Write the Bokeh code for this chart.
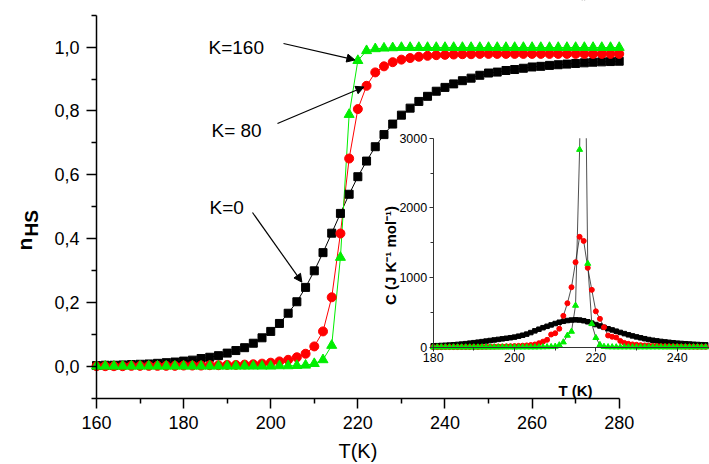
from bokeh.plotting import figure
from bokeh.models import (Range1d, LinearAxis, FixedTicker, CustomJSTickFormatter,
                          Label, Arrow, NormalHead, BoxAnnotation)
from bokeh.embed import file_html
from bokeh.resources import INLINE

# ---------------- data: main panel (n_HS vs T) ----------------
T_MAIN = list(range(160, 281, 2))
N_K0 = [0.002, 0.003, 0.003, 0.004, 0.005, 0.006, 0.007, 0.009, 0.011, 0.013,
        0.016, 0.019, 0.024, 0.028, 0.033, 0.041, 0.049, 0.058, 0.072, 0.089,
        0.109, 0.134, 0.166, 0.202, 0.247, 0.299, 0.356, 0.417, 0.479, 0.539,
        0.594, 0.643, 0.688, 0.726, 0.759, 0.787, 0.809, 0.830, 0.846, 0.862,
        0.874, 0.885, 0.895, 0.903, 0.912, 0.919, 0.922, 0.927, 0.930, 0.934,
        0.938, 0.940, 0.943, 0.945, 0.947, 0.949, 0.951, 0.953, 0.954, 0.955,
        0.956]
N_K80 = [0.000, 0.000, 0.000, 0.000, 0.001, 0.001, 0.001, 0.001, 0.001, 0.001,
         0.002, 0.002, 0.002, 0.003, 0.003, 0.004, 0.004, 0.005, 0.006, 0.008,
         0.011, 0.015, 0.020, 0.028, 0.039, 0.062, 0.109, 0.216, 0.416, 0.651,
         0.806, 0.879, 0.921, 0.940, 0.953, 0.961, 0.966, 0.970, 0.973, 0.975,
         0.976, 0.977, 0.978, 0.978, 0.979, 0.979, 0.979, 0.979, 0.979, 0.979,
         0.979, 0.979, 0.979, 0.979, 0.979, 0.979, 0.979, 0.979, 0.979, 0.979,
         0.979]
N_K160 = [0.000, 0.000, 0.000, 0.000, 0.000, 0.000, 0.000, 0.000, 0.000, 0.000,
          0.000, 0.000, 0.000, 0.000, 0.000, 0.000, 0.000, 0.000, 0.000, 0.000,
          0.000, 0.001, 0.001, 0.002, 0.003, 0.008, 0.020, 0.065, 0.341, 0.789,
          0.958, 0.989, 0.995, 0.997, 0.998, 0.999, 0.999, 0.999, 0.999, 0.999,
          0.999, 0.999, 0.999, 0.999, 0.999, 0.999, 0.999, 0.999, 0.999, 0.999,
          0.999, 0.999, 0.999, 0.999, 0.999, 0.999, 0.999, 0.999, 0.999, 0.999,
          0.999]

# ---------------- data: inset (heat capacity vs T) ----------------
T_INSET = list(range(180, 248))
C_K0 = [20, 22, 25, 28, 31, 35, 40, 45, 51, 58,
        65, 72, 80, 88, 96, 104, 112, 120, 128, 136,
        145, 158, 172, 188, 210, 235, 258, 280, 300, 320,
        340, 358, 372, 383, 390, 393, 390, 380, 365, 345,
        325, 305, 285, 265, 248, 230, 212, 195, 178, 162,
        148, 135, 122, 110, 100, 91, 83, 76, 70, 64,
        58, 54, 50, 46, 42, 39, 36, 34]
C_K80 = [1, 1, 1, 2, 2, 2, 2, 3, 3, 3,
         4, 4, 5, 6, 7, 8, 9, 10, 12, 14,
         16, 19, 22, 26, 31, 39, 57, 80, 106, 182,
         201, 265, 450, 631, 861, 1220, 1584, 1526, 1139, 823,
         515, 407, 287, 168, 150, 140, 90, 62, 48, 40,
         34, 29, 25, 22, 19, 17, 15, 13, 12, 11,
         10, 9, 8, 7, 7, 6, 6, 5]
C_K160 = [0, 0, 0, 0, 0, 0, 0, 0, 0, 0,
          0, 0, 0, 0, 0, 0, 0, 0, 0, 0,
          0, 0, 0, 0, 0, 0, 1, 2, 3, 5,
          10, 30, 72, 168, 225, 598, 2836, 6200, 1200, 335,
          135, 34, 8, 3, 2, 1, 1, 1, 1, 1,
          1, 1, 1, 1, 1, 1, 1, 1, 1, 1,
          1, 1, 1, 1, 1, 1, 1, 1]

# ---------------- ticks ----------------
X_TICKS = [160, 180, 200, 220, 240, 260, 280]
X_MINOR = [170, 190, 210, 230, 250, 270]
Y_TICKS = [0.0, 0.2, 0.4, 0.6, 0.8, 1.0]
Y_MINOR = [-0.1, 0.1, 0.3, 0.5, 0.7, 0.9, 1.1]
INSET_X_TICKS = [180, 200, 220, 240]
INSET_X_MINOR = [190, 210, 230]
INSET_Y_TICKS = [0, 1000, 2000, 3000]
INSET_Y_MINOR = [500, 1500, 2500]

FONT = "Liberation Sans"
GREEN = "#00ee00"
RED = "#ff0000"

# the frame fills the whole canvas; axes are placed inside it
p = figure(width=709, height=464,
           x_range=Range1d(137.96, 300.73), y_range=Range1d(-0.3082, 1.1464),
           x_axis_location=None, y_axis_location=None,
           output_backend="svg", toolbar_location=None,
           min_border=0, min_border_left=0, min_border_right=0,
           min_border_top=0, min_border_bottom=0)
p.outline_line_color = None
p.grid.visible = False
p.background_fill_color = "white"
p.border_fill_color = "white"

# ---------------- main axes ----------------
xa = LinearAxis(fixed_location=-0.1, bounds=(160, 280),
                ticker=FixedTicker(ticks=X_TICKS, minor_ticks=X_MINOR))
ya = LinearAxis(fixed_location=160, bounds=(-0.1, 1.1),
                ticker=FixedTicker(ticks=Y_TICKS, minor_ticks=Y_MINOR),
                formatter=CustomJSTickFormatter(
                    code="return tick.toFixed(1).replace('.', ',');"))
for ax in (xa, ya):
    ax.axis_line_width = 1.5
    ax.major_tick_line_width = 1.5
    ax.minor_tick_line_width = 1.5
    ax.major_tick_in = 0
    ax.minor_tick_in = 0
    ax.major_tick_out = 10
    ax.minor_tick_out = 5
    ax.major_label_text_font = FONT
    ax.major_label_text_font_size = "18px"
    ax.major_label_text_color = "black"
xa.major_label_standoff = 8
ya.major_label_standoff = 7
p.add_layout(xa, "below")
p.add_layout(ya, "left")

# ---------------- inset ----------------
p.extra_x_ranges = {"ix": Range1d(73.60, 247.94)}
p.extra_y_ranges = {"iy": Range1d(-1683.7, 4976.6)}

ixa = LinearAxis(x_range_name="ix", y_range_name="iy", fixed_location=0,
                 bounds=(180, 248),
                 ticker=FixedTicker(ticks=INSET_X_TICKS, minor_ticks=INSET_X_MINOR))
iya = LinearAxis(x_range_name="ix", y_range_name="iy", fixed_location=180,
                 bounds=(0, 3000),
                 ticker=FixedTicker(ticks=INSET_Y_TICKS, minor_ticks=INSET_Y_MINOR))
for ax in (ixa, iya):
    ax.axis_line_width = 1
    ax.axis_line_color = "#333333"
    ax.major_tick_line_color = "#333333"
    ax.minor_tick_line_color = "#333333"
    ax.major_tick_in = 0
    ax.minor_tick_in = 0
    ax.major_tick_out = 4
    ax.minor_tick_out = 3
    ax.major_label_text_font = FONT
    ax.major_label_text_font_size = "12.5px"
    ax.major_label_text_color = "black"
    ax.major_label_standoff = 2
p.add_layout(ixa, "below")
p.add_layout(iya, "left")

inset_kw = dict(x_range_name="ix", y_range_name="iy", level="image")
for c in (C_K0, C_K80, C_K160):
    p.line(T_INSET, c, line_color="#222222", line_width=0.8, **inset_kw)
p.scatter(T_INSET, C_K0, marker="square", size=4.5, fill_color="black",
          line_color="black", **inset_kw)
p.scatter(T_INSET, C_K80, marker="circle", size=5, fill_color=RED,
          line_color=RED, **inset_kw)
p.scatter(T_INSET, C_K160, marker="triangle", size=6, fill_color=GREEN,
          line_color=GREEN, **inset_kw)

# white mask hiding inset curves above the inset's top (3000)
p.add_layout(BoxAnnotation(left=180, right=1000, bottom=INSET_Y_TICKS[-1],
                           top=100000,
                           x_range_name="ix", y_range_name="iy",
                           fill_color="white", fill_alpha=1.0,
                           line_color=None, level="underlay"))

p.add_layout(Label(x=215.0, y=-621, x_range_name="ix", y_range_name="iy",
                   text="T (K)", text_font=FONT, text_font_size="15px",
                   text_font_style="bold", text_align="center",
                   text_color="black", text_baseline="alphabetic"))
p.add_layout(Label(x=169.5, y=1316, x_range_name="ix", y_range_name="iy",
                   text="C (J K\u207b\u00b9 mol\u207b\u00b9)", text_font=FONT,
                   text_font_size="15px", text_font_style="bold",
                   text_color="black", text_align="center",
                   text_baseline="alphabetic", angle=1.5708))

# ---------------- main curves ----------------
p.line(T_MAIN, N_K0, line_color="black", line_width=1)
p.line(T_MAIN, N_K80, line_color=RED, line_width=1)
p.line(T_MAIN, N_K160, line_color=GREEN, line_width=1)
p.scatter(T_MAIN, N_K0, marker="square", size=8, fill_color="black",
          line_color="black")
p.scatter(T_MAIN, N_K80, marker="circle", size=9, fill_color=RED,
          line_color=RED)
p.scatter(T_MAIN, N_K160, marker="triangle", size=10, fill_color=GREEN,
          line_color=GREEN)

# ---------------- annotations ----------------
def tip(series, t, start, back):
    i = T_MAIN.index(t)
    x1, y1 = t, series[i]
    x0, y0 = start
    return x1 - back * (x1 - x0), y1 - back * (y1 - y0)

ANNOT = [
    ("K=160", (185.71, 0.999), (202.93, 1.0116), N_K160, 220, 0.04),
    ("K= 80", (186.40, 0.739), (201.55, 0.7608), N_K80, 222, 0.03),
    ("K=0", (185.94, 0.4975), (195.81, 0.4818), N_K0, 208, 0.07),
]
for text, lpos, start, series, t, back in ANNOT:
    p.add_layout(Label(x=lpos[0], y=lpos[1], text=text, text_font=FONT,
                       text_font_size="19px", text_color="black",
                       text_baseline="alphabetic"))
    xe, ye = tip(series, t, start, back)
    p.add_layout(Arrow(end=NormalHead(size=8, fill_color="black",
                                      line_color="black", line_width=1),
                       x_start=start[0], y_start=start[1], x_end=xe, y_end=ye,
                       line_width=1.2, line_color="black"))

# axis titles
p.add_layout(Label(x=220, y=-0.2674, text="T(K)", text_font=FONT,
                   text_font_size="20px", text_align="center",
                   text_color="black", text_baseline="alphabetic"))
p.add_layout(Label(x=143.47, y=0.3627, text="n", text_font=FONT,
                   text_font_size="21px", text_font_style="bold",
                   text_color="black", angle=1.5708,
                   text_baseline="alphabetic"))
p.add_layout(Label(x=145.08, y=0.4066, text="HS", text_font=FONT,
                   text_font_size="19px", text_font_style="bold",
                   text_color="black", angle=1.5708,
                   text_baseline="alphabetic"))

open("out.html", "w").write(file_html(p, INLINE))
